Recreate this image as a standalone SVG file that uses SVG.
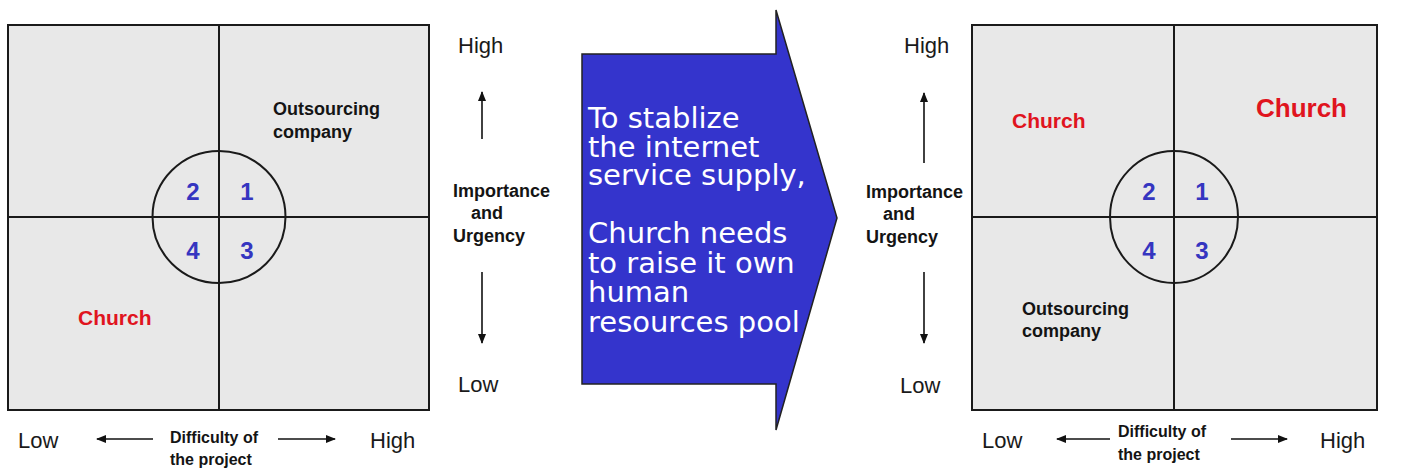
<svg xmlns="http://www.w3.org/2000/svg" width="1403" height="470" viewBox="0 0 1403 470">
<style>
.box{fill:#e8e8e8;stroke:#1a1a1a;stroke-width:2}
.ln{stroke:#1a1a1a;stroke-width:2;fill:none}
.circ{fill:none;stroke:#1a1a1a;stroke-width:2}
.num{font-family:"Liberation Sans",Arial,sans-serif;font-weight:bold;font-size:24px;fill:#3535c0;text-anchor:middle}
.red{font-family:"Liberation Sans",Arial,sans-serif;font-weight:bold;fill:#e0141e}
.lbl{font-family:"Liberation Sans",Arial,sans-serif;font-weight:bold;font-size:18px;fill:#141414}
.dif{font-family:"Liberation Sans",Arial,sans-serif;font-weight:bold;font-size:16px;fill:#141414}
.ax{font-family:"Liberation Sans",Arial,sans-serif;font-size:22px;fill:#1a1a1a}
.arr{stroke:#111;stroke-width:1.6;fill:none}
.big{font-family:"DejaVu Sans",Verdana,sans-serif;font-size:29px;fill:#ffffff}
</style>
<defs>
<marker id="ah" viewBox="0 0 10 10" refX="9" refY="5" markerWidth="10" markerHeight="10" markerUnits="userSpaceOnUse" orient="auto">
<path d="M0,1 L10,5 L0,9 Z" fill="#111"/>
</marker>
</defs>
<rect width="1403" height="470" fill="#ffffff"/>

<g id="left-matrix">
<rect class="box" x="8" y="25" width="421" height="385"/>
<line class="ln" x1="219" y1="25" x2="219" y2="410"/>
<line class="ln" x1="8" y1="217" x2="429" y2="217"/>
<ellipse class="circ" cx="219" cy="217" rx="66.5" ry="66"/>
<text class="num" x="193" y="200">2</text>
<text class="num" x="247" y="200">1</text>
<text class="num" x="193" y="259">4</text>
<text class="num" x="247" y="259">3</text>
<text class="lbl" x="273" y="115">Outsourcing</text>
<text class="lbl" x="273" y="138">company</text>
<text class="red" x="78" y="325" font-size="21">Church</text>
</g>

<g id="left-xaxis">
<text class="ax" x="18" y="448">Low</text>
<text class="dif" x="170" y="443">Difficulty of</text>
<text class="dif" x="170" y="465">the project</text>
<text class="ax" x="370" y="448">High</text>
</g>

<g id="middle-yaxis">
<text class="ax" x="458" y="53">High</text>
<text class="lbl" x="453" y="197">Importance</text>
<text class="lbl" x="471" y="219">and</text>
<text class="lbl" x="453" y="242">Urgency</text>
<text class="ax" x="458" y="392">Low</text>
</g>

<g id="big-arrow">
<polygon points="582,54 776,54 776,10 837,218 776,430 776,384 582,384" fill="#3434cc" stroke="#222" stroke-width="1.5"/>
<text class="big" x="588" y="128">To stablize</text>
<text class="big" x="588" y="157">the internet</text>
<text class="big" x="588" y="185">service supply,</text>
<text class="big" x="588" y="243">Church needs</text>
<text class="big" x="588" y="273">to raise it own</text>
<text class="big" x="588" y="302">human</text>
<text class="big" x="588" y="332">resources pool</text>
</g>

<g id="right-yaxis">
<text class="ax" x="904" y="53">High</text>
<text class="lbl" x="866" y="198">Importance</text>
<text class="lbl" x="883" y="220">and</text>
<text class="lbl" x="866" y="243">Urgency</text>
<text class="ax" x="900" y="393">Low</text>
</g>

<g id="right-matrix">
<rect class="box" x="972" y="25" width="405" height="385"/>
<line class="ln" x1="1174" y1="25" x2="1174" y2="410"/>
<line class="ln" x1="972" y1="217" x2="1377" y2="217"/>
<ellipse class="circ" cx="1174" cy="217" rx="64" ry="66"/>
<text class="num" x="1149" y="200">2</text>
<text class="num" x="1202" y="200">1</text>
<text class="num" x="1149" y="259">4</text>
<text class="num" x="1202" y="259">3</text>
<text class="red" x="1012" y="128" font-size="21">Church</text>
<text class="red" x="1256" y="117" font-size="26">Church</text>
<text class="lbl" x="1022" y="315">Outsourcing</text>
<text class="lbl" x="1022" y="337">company</text>
</g>

<g id="right-xaxis">
<text class="ax" x="982" y="448">Low</text>
<text class="dif" x="1118" y="437">Difficulty of</text>
<text class="dif" x="1118" y="460">the project</text>
<text class="ax" x="1320" y="448">High</text>
</g>

<g id="connectors">
<line class="arr" x1="153" y1="439" x2="97" y2="439" marker-end="url(#ah)"/>
<line class="arr" x1="278" y1="439" x2="335" y2="439" marker-end="url(#ah)"/>
<line class="arr" x1="482" y1="139" x2="482" y2="92" marker-end="url(#ah)"/>
<line class="arr" x1="482" y1="272" x2="482" y2="343" marker-end="url(#ah)"/>
<line class="arr" x1="924" y1="163" x2="924" y2="93" marker-end="url(#ah)"/>
<line class="arr" x1="924" y1="272" x2="924" y2="343" marker-end="url(#ah)"/>
<line class="arr" x1="1110" y1="439" x2="1057" y2="439" marker-end="url(#ah)"/>
<line class="arr" x1="1231" y1="439" x2="1287" y2="439" marker-end="url(#ah)"/>
</g>
</svg>
